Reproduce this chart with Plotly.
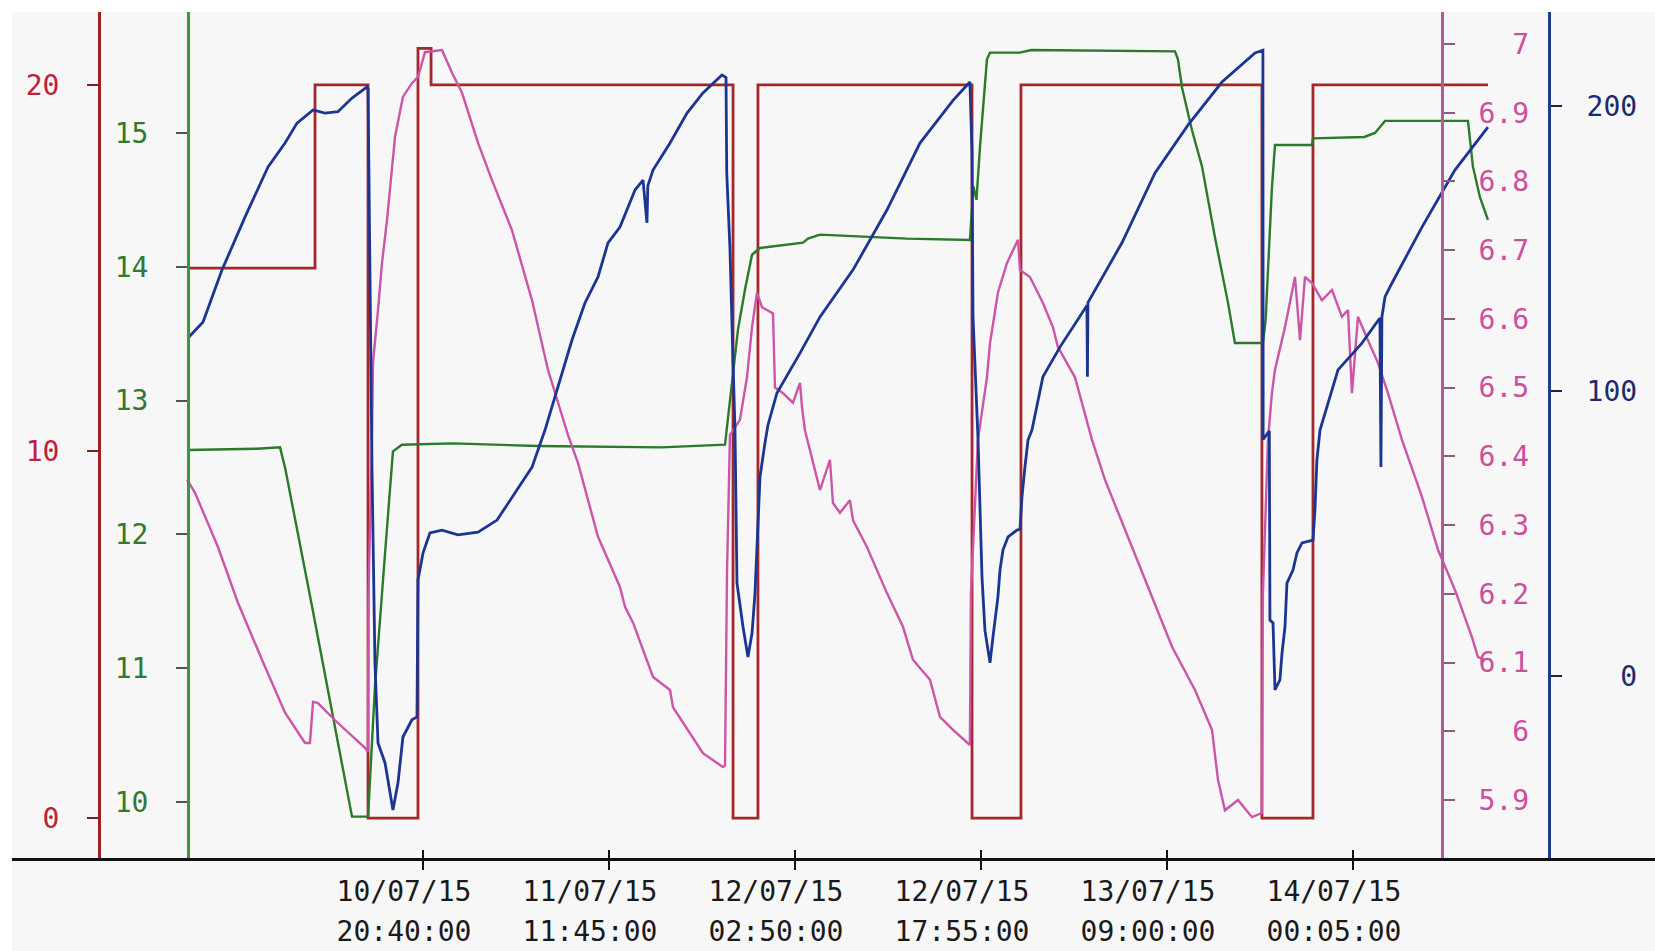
import pandas as pd
import plotly.graph_objects as go

BASE = pd.Timestamp("2015-07-10 00:00")

# ---------------- data (hours after 10/07/15 00:00) ----------------
red_h = [1.61, 11.91, 16.21, 20.26, 21.32, 45.81, 47.83, 65.19, 69.16, 88.70, 92.84, 107.03]
red_v = [15, 20, 0, 21, 20, 0, 20, 0, 20, 0, 20, 20]

green_h = [1.61, 7.21, 9.07, 9.48, 11.67, 12.96, 14.91, 16.21, 16.37, 16.77, 17.59, 18.23, 18.96,
           23.10, 30.0, 40.0, 45.16, 45.56, 46.21, 46.78, 47.35, 48.00, 51.48, 51.89, 52.86, 59.92,
           65.02, 65.30, 65.55, 65.84, 66.20, 66.40, 66.65, 69.08, 70.0, 81.65, 81.89, 82.22, 83.03,
           83.84, 84.89, 85.95, 86.51, 88.78, 89.00, 89.19, 89.51, 89.76, 92.76, 92.84, 97.0, 97.87,
           98.68, 105.41, 105.57, 105.81, 106.38, 107.03]
green_v = [12.63, 12.64, 12.65, 12.50, 11.46, 10.84, 9.89, 9.89, 10.18, 10.86, 11.86, 12.62, 12.67,
           12.68, 12.66, 12.65, 12.67, 13.00, 13.53, 13.83, 14.09, 14.14, 14.18, 14.21, 14.24, 14.21,
           14.20, 14.60, 14.50, 14.90, 15.30, 15.55, 15.60, 15.60, 15.62, 15.61, 15.55, 15.34, 15.02,
           14.75, 14.22, 13.73, 13.43, 13.43, 13.60, 14.00, 14.59, 14.91, 14.91, 14.96, 14.97, 15.00,
           15.09, 15.09, 14.97, 14.75, 14.52, 14.35]

pink_h = [1.53, 2.18, 4.04, 5.66, 7.61, 9.48, 11.10, 11.50, 11.75, 12.15, 13.53, 15.96, 16.20, 16.25,
          16.53, 16.61, 17.02, 17.34, 17.75, 18.15, 18.40, 19.04, 19.77, 20.26, 20.83, 22.21, 23.02,
          23.83, 25.13, 26.26, 27.88, 29.51, 30.80, 32.43, 33.24, 34.86, 36.64, 37.05, 37.70, 39.32,
          40.70, 40.94, 43.37, 44.99, 45.16, 45.32, 45.56, 46.37, 46.94, 47.35, 47.75, 48.16, 49.05,
          49.21, 49.86, 50.67, 51.24, 51.40, 51.64, 52.86, 53.67, 53.91, 54.48, 55.29, 55.54, 56.67,
          58.29, 59.59, 60.40, 61.78, 62.59, 63.65, 64.78, 65.02, 65.10, 65.67, 66.40, 66.65, 67.29,
          68.02, 68.92, 69.08, 69.89, 70.94, 71.75, 72.16, 73.54, 74.92, 75.97, 78.65, 81.41, 83.27,
          84.65, 85.14, 85.70, 86.76, 87.89, 88.70, 88.78, 89.19, 89.51, 89.76, 90.57, 91.38, 91.79,
          92.19, 92.76, 93.57, 94.38, 95.19, 95.68, 96.00, 96.49, 97.30, 98.11, 98.92, 100.06, 101.68,
          102.98, 104.35, 105.73, 106.22, 106.79]
pink_v = [6.366, 6.347, 6.268, 6.187, 6.104, 6.027, 5.983, 5.983, 6.043, 6.041, 6.016, 5.976, 5.970,
          6.200, 6.424, 6.536, 6.613, 6.681, 6.744, 6.817, 6.865, 6.923, 6.943, 6.952, 6.988, 6.991,
          6.958, 6.929, 6.856, 6.802, 6.729, 6.627, 6.526, 6.431, 6.390, 6.283, 6.210, 6.181, 6.158,
          6.079, 6.060, 6.035, 5.968, 5.948, 5.950, 6.230, 6.431, 6.453, 6.515, 6.588, 6.638, 6.617,
          6.608, 6.500, 6.492, 6.478, 6.507, 6.472, 6.438, 6.351, 6.395, 6.332, 6.318, 6.336, 6.307,
          6.268, 6.201, 6.152, 6.104, 6.075, 6.021, 6.002, 5.983, 5.980, 6.200, 6.424, 6.515, 6.565,
          6.638, 6.681, 6.715, 6.671, 6.661, 6.623, 6.588, 6.559, 6.515, 6.424, 6.366, 6.245, 6.123,
          6.060, 6.002, 5.929, 5.885, 5.900, 5.875, 5.881, 6.200, 6.424, 6.492, 6.526, 6.588, 6.661,
          6.569, 6.661, 6.652, 6.627, 6.642, 6.603, 6.613, 6.492, 6.603, 6.569, 6.536, 6.492, 6.424,
          6.341, 6.264, 6.206, 6.137, 6.108, 6.104]

blue_h = [1.61, 2.83, 4.37, 6.23, 8.10, 9.48, 10.45, 11.75, 12.72, 13.77, 14.91, 16.13, 16.21, 16.53,
          16.77, 17.02, 17.59, 18.23, 18.64, 19.04, 19.77, 20.18, 20.26, 20.67, 21.23, 22.21, 23.50,
          25.13, 26.67, 28.13, 29.51, 30.56, 31.37, 32.75, 33.80, 34.86, 35.67, 36.64, 37.86, 38.51,
          38.83, 38.90, 39.32, 40.70, 42.08, 43.37, 44.91, 45.24, 45.30, 45.56, 45.81, 45.97, 46.13,
          46.62, 47.02, 47.35, 47.59, 47.83, 48.00, 48.40, 48.64, 49.37, 51.24, 52.86, 55.54, 58.29,
          60.97, 63.65, 65.02, 65.19, 65.27, 65.67, 66.00, 66.24, 66.65, 66.89, 67.29, 67.46, 67.70,
          68.11, 68.84, 69.08, 69.24, 69.48, 69.73, 70.05, 70.94, 72.32, 74.51, 74.55, 74.59, 77.35,
          80.03, 82.70, 85.46, 88.14, 88.70, 88.78, 88.80, 89.30, 89.35, 89.60, 89.76, 90.16, 90.33,
          90.57, 90.73, 91.22, 91.54, 91.95, 92.84, 93.00, 93.16, 93.41, 94.87, 96.81, 98.27, 98.35,
          98.43, 98.68, 99.25, 101.68, 104.35, 107.03]
blue_v = [118.6, 124.2, 142.5, 161.0, 178.6, 187.0, 194.0, 198.6, 197.5, 198.0, 202.8, 206.7, 206.0, 73.3,
          4.6, -23.5, -30.5, -47.0, -37.5, -21.4, -15.4, -14.4, 33.7, 43.2, 50.2, 51.2, 49.5,
          50.5, 54.7, 64.2, 73.3, 86.3, 97.9, 117.9, 130.9, 140.0, 152.0, 157.5, 170.5, 174.0,
          159.0, 172.0, 177.5, 187.0, 197.5, 204.6, 210.9, 210.0, 176.5, 150.0, 110.0, 86.0, 32.6,
          17.2, 6.7, 15.0, 29.0, 51.0, 70.0, 81.8, 88.0, 99.3, 113.3, 126.0, 142.5, 163.5,
          187.0, 202.0, 208.4, 183.5, 126.0, 84.0, 34.7, 16.0, 4.6, 13.7, 27.7, 37.2, 44.2,
          48.8, 51.2, 51.5, 62.8, 73.3, 82.8, 86.3, 105.0, 115.4, 130.0, 105.0, 131.0, 152.0,
          176.5, 193.3, 208.4, 218.6, 219.6, 219.6, 83.0, 86.0, 19.6, 18.6, -4.9, -1.4, 8.0,
          17.2, 32.6, 37.2, 43.2, 46.7, 47.7, 58.2, 75.8, 86.3, 107.4, 116.8, 125.6, 73.3,
          126.0, 133.0, 137.9, 157.5, 177.5, 192.6]

tick_times = ["2015-07-10 20:40", "2015-07-11 11:45", "2015-07-12 02:50",
              "2015-07-12 17:55", "2015-07-13 09:00", "2015-07-14 00:05"]
tick_dates = ["10/07/15", "11/07/15", "12/07/15", "12/07/15", "13/07/15", "14/07/15"]
tick_clock = ["20:40:00", "11:45:00", "02:50:00", "17:55:00", "09:00:00", "00:05:00"]

red_ticks = [0, 10, 20]
green_ticks = [10, 11, 12, 13, 14, 15]
pink_ticks = [5.9, 6.0, 6.1, 6.2, 6.3, 6.4, 6.5, 6.6, 6.7, 6.8, 6.9, 7.0]
pink_text = ["5.9", "\u00a0\u00a06", "6.1", "6.2", "6.3", "6.4", "6.5", "6.6", "6.7", "6.8", "6.9", "\u00a0\u00a07"]
blue_ticks = [0, 100, 200]
blue_text = ["\u00a0\u00a00", "100", "200"]


def to_time(hours):
    return [BASE + pd.Timedelta(hours=h) for h in hours]


X_LEFT_H, X_RIGHT_H = -12.663, 120.577

RED_LINE, RED_TXT = "#a3282b", "#c0203a"
GREEN_LINE, GREEN_AX, GREEN_TXT = "#2a7a2a", "#3a9a3a", "#2f7a2f"
PINK_LINE, PINK_AX, PINK_TXT = "#cc55a8", "#b25a9e", "#cc4f9e"
BLUE_LINE, BLUE_AX, BLUE_TXT = "#1c3591", "#1f3c8c", "#1c2a6e"
FONT = "DejaVu Sans Mono"
FS = 28

fig = go.Figure()
fig.add_trace(go.Scatter(x=to_time(red_h), y=red_v, mode="lines", line=dict(color=RED_LINE, width=2.8, shape="hv"), yaxis="y"))
fig.add_trace(go.Scatter(x=to_time(green_h), y=green_v, mode="lines", line=dict(color=GREEN_LINE, width=2.4), yaxis="y2"))
fig.add_trace(go.Scatter(x=to_time(pink_h), y=pink_v, mode="lines", line=dict(color=PINK_LINE, width=2.4), yaxis="y3"))
fig.add_trace(go.Scatter(x=to_time(blue_h), y=blue_v, mode="lines", line=dict(color=BLUE_LINE, width=2.8), yaxis="y4"))
# invisible carrier so the second (time-of-day) x axis gets drawn
fig.add_trace(go.Scatter(x=to_time(red_h), y=red_v, mode="lines", line=dict(color="rgba(0,0,0,0)", width=0),
                         xaxis="x2", yaxis="y", hoverinfo="skip"))

xr = [BASE + pd.Timedelta(hours=X_LEFT_H), BASE + pd.Timedelta(hours=X_RIGHT_H)]

common_y = dict(showgrid=False, zeroline=False, anchor="free", automargin=False,
                ticks="outside", ticklen=11, tickwidth=2, linewidth=3, showline=True)

fig.update_layout(
    width=1655, height=951,
    margin=dict(l=12, r=0, t=12, b=93),
    paper_bgcolor="white", plot_bgcolor="rgba(0,0,0,0)",
    showlegend=False,
    shapes=[dict(type="rect", xref="paper", yref="paper", x0=0, x1=1, y0=-0.11, y1=1,
                 fillcolor="#f7f7f8", line=dict(width=0), layer="below")],
    xaxis=dict(type="date", range=xr, domain=[0, 1], anchor="y", showgrid=False, zeroline=False,
               showline=True, linecolor="#111111", linewidth=3,
               tickvals=tick_times, ticktext=tick_dates, ticks="outside", ticklen=9, tickwidth=2,
               tickcolor="#111111", tickfont=dict(family=FONT, size=FS, color="#1a1a1a"),
               ticklabelshift=-19, ticklabelstandoff=-3, automargin=False),
    xaxis2=dict(type="date", range=xr, domain=[0, 1], overlaying="x", anchor="y", side="bottom",
                showgrid=False, zeroline=False, showline=False,
                tickvals=tick_times, ticktext=tick_clock, ticks="inside", ticklen=8, tickwidth=2,
                tickcolor="#111111", tickfont=dict(family=FONT, size=FS, color="#1a1a1a"),
                ticklabelshift=-19, ticklabelstandoff=54, automargin=False),
    yaxis=dict(range=[-1.09, 21.99], position=0.05295, side="left", tickvals=red_ticks,
               linecolor="#9a2424", tickcolor="#7a2020",
               tickfont=dict(family=FONT, size=FS, color=RED_TXT), ticklabelstandoff=22, **common_y),
    yaxis2=dict(range=[9.581, 15.904], position=0.10712, side="left", overlaying="y", tickvals=green_ticks,
                linecolor=GREEN_AX, tickcolor="#4a5a4a",
                tickfont=dict(family=FONT, size=FS, color=GREEN_TXT), ticklabelstandoff=22, **common_y),
    yaxis3=dict(range=[5.8156, 7.0465], position=0.87036, side="right", overlaying="y",
                tickvals=pink_ticks, ticktext=pink_text, linecolor=PINK_AX, tickcolor="#8a5a80",
                tickfont=dict(family=FONT, size=FS, color=PINK_TXT), ticklabelstandoff=18, **common_y),
    yaxis4=dict(range=[-63.86, 232.98], position=0.93548, side="right", overlaying="y",
                tickvals=blue_ticks, ticktext=blue_text, linecolor=BLUE_AX, tickcolor="#222244",
                tickfont=dict(family=FONT, size=FS, color=BLUE_TXT), ticklabelstandoff=19, **common_y),
)

fig.write_html("out.html")
